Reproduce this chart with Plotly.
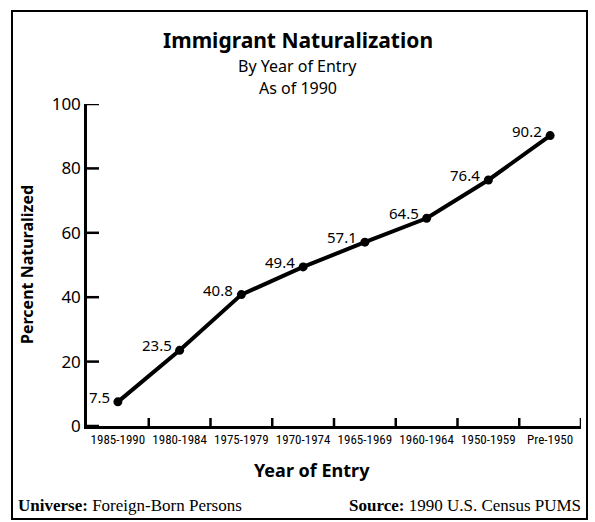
import plotly.graph_objects as go

categories = ["1985-1990", "1980-1984", "1975-1979", "1970-1974",
              "1965-1969", "1960-1964", "1950-1959", "Pre-1950"]
pct_naturalized = [7.5, 23.5, 40.8, 49.4, 57.1, 64.5, 76.4, 90.2]
y_ticks = [0, 20, 40, 60, 80, 100]

xs = list(range(len(categories)))
boundaries = [i + 0.5 for i in xs]

SANS = "Noto Sans, DejaVu Sans, sans-serif"
NARROW = "Liberation Sans Narrow, Roboto Condensed, Liberation Sans, sans-serif"
SERIF = "Liberation Serif, DejaVu Serif, serif"

L, R, T, B = 87, 14, 104, 96
W, H = 595, 522
pw, ph = W - L - R, H - T - B
X0, X1, Y0, Y1 = -0.5, 7.5, 0, 100
ux = (X1 - X0) / pw   # data units per pixel (x)
uy = (Y1 - Y0) / ph   # data units per pixel (y)


def px(xp):
    return (xp - L) / pw


def py(yp):
    return (H - B - yp) / ph


fig = go.Figure()

# inward tick marks, drawn as line segments in data space
tx, ty = [], []
for v in y_ticks:
    tx += [X0, X0 + 12 * ux, None]
    ty += [v, v, None]
for b in boundaries:
    tx += [b, b, None]
    ty += [Y0, Y0 + 8 * uy, None]
fig.add_trace(go.Scatter(x=tx, y=ty, mode="lines",
                         line=dict(color="black", width=2.5),
                         hoverinfo="skip", showlegend=False, cliponaxis=False))

fig.add_trace(go.Scatter(
    x=xs, y=pct_naturalized, mode="lines+markers",
    line=dict(color="black", width=4),
    marker=dict(color="black", size=9),
    hoverinfo="skip", showlegend=False, cliponaxis=False,
))

annotations = []
for x, v in zip(xs, pct_naturalized):
    annotations.append(dict(
        x=x, y=v, xref="x", yref="y", text=f"{v:.1f}", showarrow=False,
        xanchor="right", yanchor="middle", xshift=-6, yshift=5,
        font=dict(family=SANS, size=15, color="black"),
    ))

annotations += [
    dict(text="<b>Immigrant Naturalization</b>", x=px(297.5), y=py(40), xref="paper", yref="paper",
         showarrow=False, xanchor="center", yanchor="middle",
         font=dict(family=SANS, size=21, color="black")),
    dict(text="By Year of Entry", x=px(297.5), y=py(66), xref="paper", yref="paper",
         showarrow=False, xanchor="center", yanchor="middle",
         font=dict(family=SANS, size=16, color="black")),
    dict(text="As of 1990", x=px(297.5), y=py(88), xref="paper", yref="paper",
         showarrow=False, xanchor="center", yanchor="middle",
         font=dict(family=SANS, size=16, color="black")),
    dict(text="<b>Year of Entry</b>", x=px(312), y=py(470), xref="paper", yref="paper",
         showarrow=False, xanchor="center", yanchor="middle",
         font=dict(family=SANS, size=18, color="black")),
    dict(text="<b>Percent Naturalized</b>", x=px(27), y=py(265), xref="paper", yref="paper",
         showarrow=False, xanchor="center", yanchor="middle", textangle=-90,
         font=dict(family=SANS, size=16, color="black")),
    dict(text="<b>Universe:</b> Foreign-Born Persons", x=px(16), y=py(505), xref="paper", yref="paper",
         showarrow=False, xanchor="left", yanchor="middle",
         font=dict(family=SERIF, size=17, color="black")),
    dict(text="<b>Source:</b> 1990 U.S. Census PUMS", x=px(583), y=py(505), xref="paper", yref="paper",
         showarrow=False, xanchor="right", yanchor="middle",
         font=dict(family=SERIF, size=17, color="black")),
]

fig.update_layout(
    width=W, height=H,
    margin=dict(l=L, r=R, t=T, b=B, autoexpand=False),
    paper_bgcolor="white", plot_bgcolor="white",
    showlegend=False,
    font=dict(family=SANS, color="black"),
    xaxis=dict(
        range=[X0, X1], tickvals=xs, ticktext=categories,
        ticks="", showgrid=False, zeroline=False,
        showline=True, linecolor="black", linewidth=2.5,
        tickfont=dict(family=NARROW, size=13, color="black"),
    ),
    yaxis=dict(
        range=[Y0, Y1], tickmode="array", tickvals=y_ticks, ticks="",
        showgrid=False, zeroline=False,
        showline=True, linecolor="black", linewidth=2.5,
        tickfont=dict(family=SANS, size=17, color="black"),
    ),
    annotations=annotations,
)

fig.add_shape(type="rect", xref="paper", yref="paper",
              x0=px(12), x1=px(587), y0=py(519), y1=py(11),
              line=dict(color="black", width=2), layer="below")

fig.write_html("out.html", config={"displayModeBar": False},
               post_script="document.body.style.margin='0';document.body.style.padding='0';")
